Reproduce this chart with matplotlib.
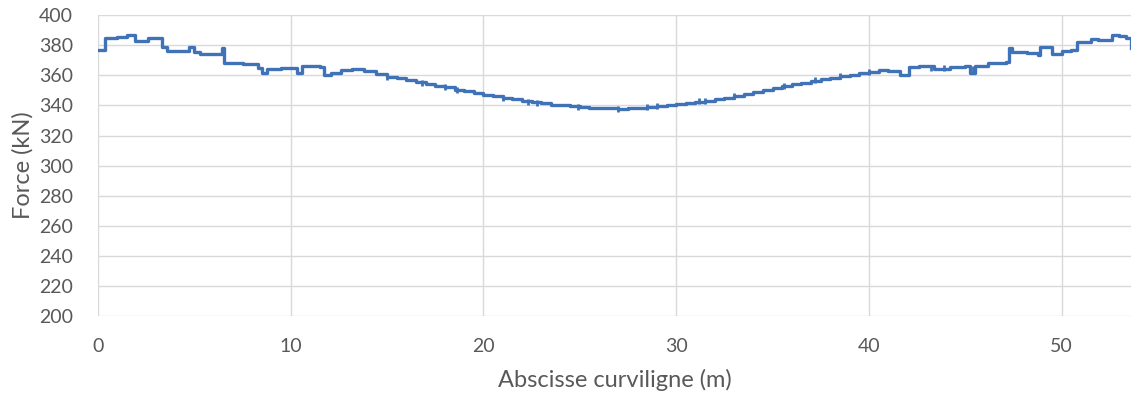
import matplotlib
matplotlib.use("Agg")
import matplotlib.pyplot as plt
import numpy as np

# Step-wise force profile along the curvilinear abscissa
abscissa = [0.0, 0.35, 1.0, 1.5, 1.9, 2.6, 3.3, 3.6, 4.7, 5.0, 5.3, 6.45, 6.55,
            7.5, 8.3, 8.5, 8.75, 9.5, 10.3, 10.6, 10.8, 11.5, 11.75, 12.1, 12.6,
            13.2, 13.8, 14.4,
            15.0, 15.5, 16.0, 16.5, 17.0, 17.5, 18.0, 18.5, 19.0, 19.5, 20.0,
            20.5, 21.0, 21.5, 22.0, 22.5, 23.0, 23.5, 24.0, 24.5, 25.0, 25.5,
            26.0, 26.5, 27.0, 27.5, 28.0, 28.5, 29.0, 29.5, 30.0, 30.5, 31.0,
            31.5, 32.0, 32.5, 33.0, 33.5, 34.0, 34.5, 35.0, 35.5, 36.0, 36.5,
            37.0, 37.5, 38.0, 38.5, 39.0, 39.5, 40.0, 40.5,
            41.0, 41.6, 42.1, 42.6, 43.4, 44.2, 45.0, 45.25, 45.5, 46.2, 47.1,
            47.25, 47.4, 48.2, 48.75, 48.9, 49.5, 50.0, 50.5, 50.8, 51.5, 51.9,
            52.6, 53.0, 53.35, 53.6]
force = [377, 384.5, 385.5, 387, 382.5, 384.5, 379, 376.5, 379, 375.5, 374.5, 378.5, 368,
         367.5, 365, 361.5, 364.5, 365, 361.5, 366.5, 366, 365.5, 360, 361.5, 363.5,
         364, 363, 361,
         359, 358, 357, 355.5, 354.5, 353, 352, 350.5, 349.5, 348, 347,
         346, 345, 344, 343, 342, 341.5, 340.5, 340, 339.5, 339, 338.5,
         338.5, 338, 337.8, 338, 338.5, 339, 339.5, 340, 340.8, 341.5, 342.3,
         343.2, 344.2, 345.2, 346.5, 347.7, 349, 350.2, 351.5, 352.8, 354, 355.2,
         356.5, 357.5, 358.5, 359.5, 360.5, 361.5, 362.5, 363.5,
         363, 360, 365.5, 366, 364.5, 365.5, 366.5, 361.5, 366, 368, 369,
         378, 375.5, 375, 373.5, 379, 374, 376, 377, 382, 384, 383.5,
         387, 386, 384.5, 378]

# small vertical glitches on the curve
glitch_x = [15.0, 16.8, 18.0, 18.6, 21.0, 22.3, 22.8, 24.9, 27.0, 28.5, 29.0,
            31.2, 31.5, 33.0, 35.6, 37.2, 38.5, 40.0, 43.2, 43.9, 45.4, 47.3]

x_ticks = [0, 10, 20, 30, 40, 50]
y_ticks = list(range(200, 401, 20))

text_col = "#595959"
grid_col = "#d9d9d9"
line_col = "#4072b8"

plt.rcParams['font.family'] = ['Lato', 'DejaVu Sans']

fig = plt.figure(figsize=(11.31, 3.99), dpi=100)
ax = fig.add_axes([0.0867, 0.208, 0.9133, 0.754])

ax.step(abscissa, force, where='post', color=line_col, lw=2.4, zorder=3)
gy = np.interp(glitch_x, abscissa, force)
ax.vlines(glitch_x, gy - 2, gy + 2, color=line_col, lw=2.0, zorder=3)

ax.set_xlim(0, 53.6)
ax.set_ylim(200, 400)
ax.set_xticks(x_ticks)
ax.set_yticks(y_ticks)
ax.grid(True, color=grid_col, lw=1.0)
ax.set_axisbelow(True)
for s in ax.spines.values():
    s.set_visible(False)
ax.tick_params(length=0, labelsize=14, colors=text_col)
ax.tick_params(axis='y', pad=18)
ax.tick_params(axis='x', pad=16)
ax.set_xlabel("Abscisse curviligne (m)", fontsize=17, color=text_col, labelpad=10)
ax.set_ylabel("Force (kN)", fontsize=17, color=text_col, labelpad=4)

fig.savefig("out.png", dpi=100)
